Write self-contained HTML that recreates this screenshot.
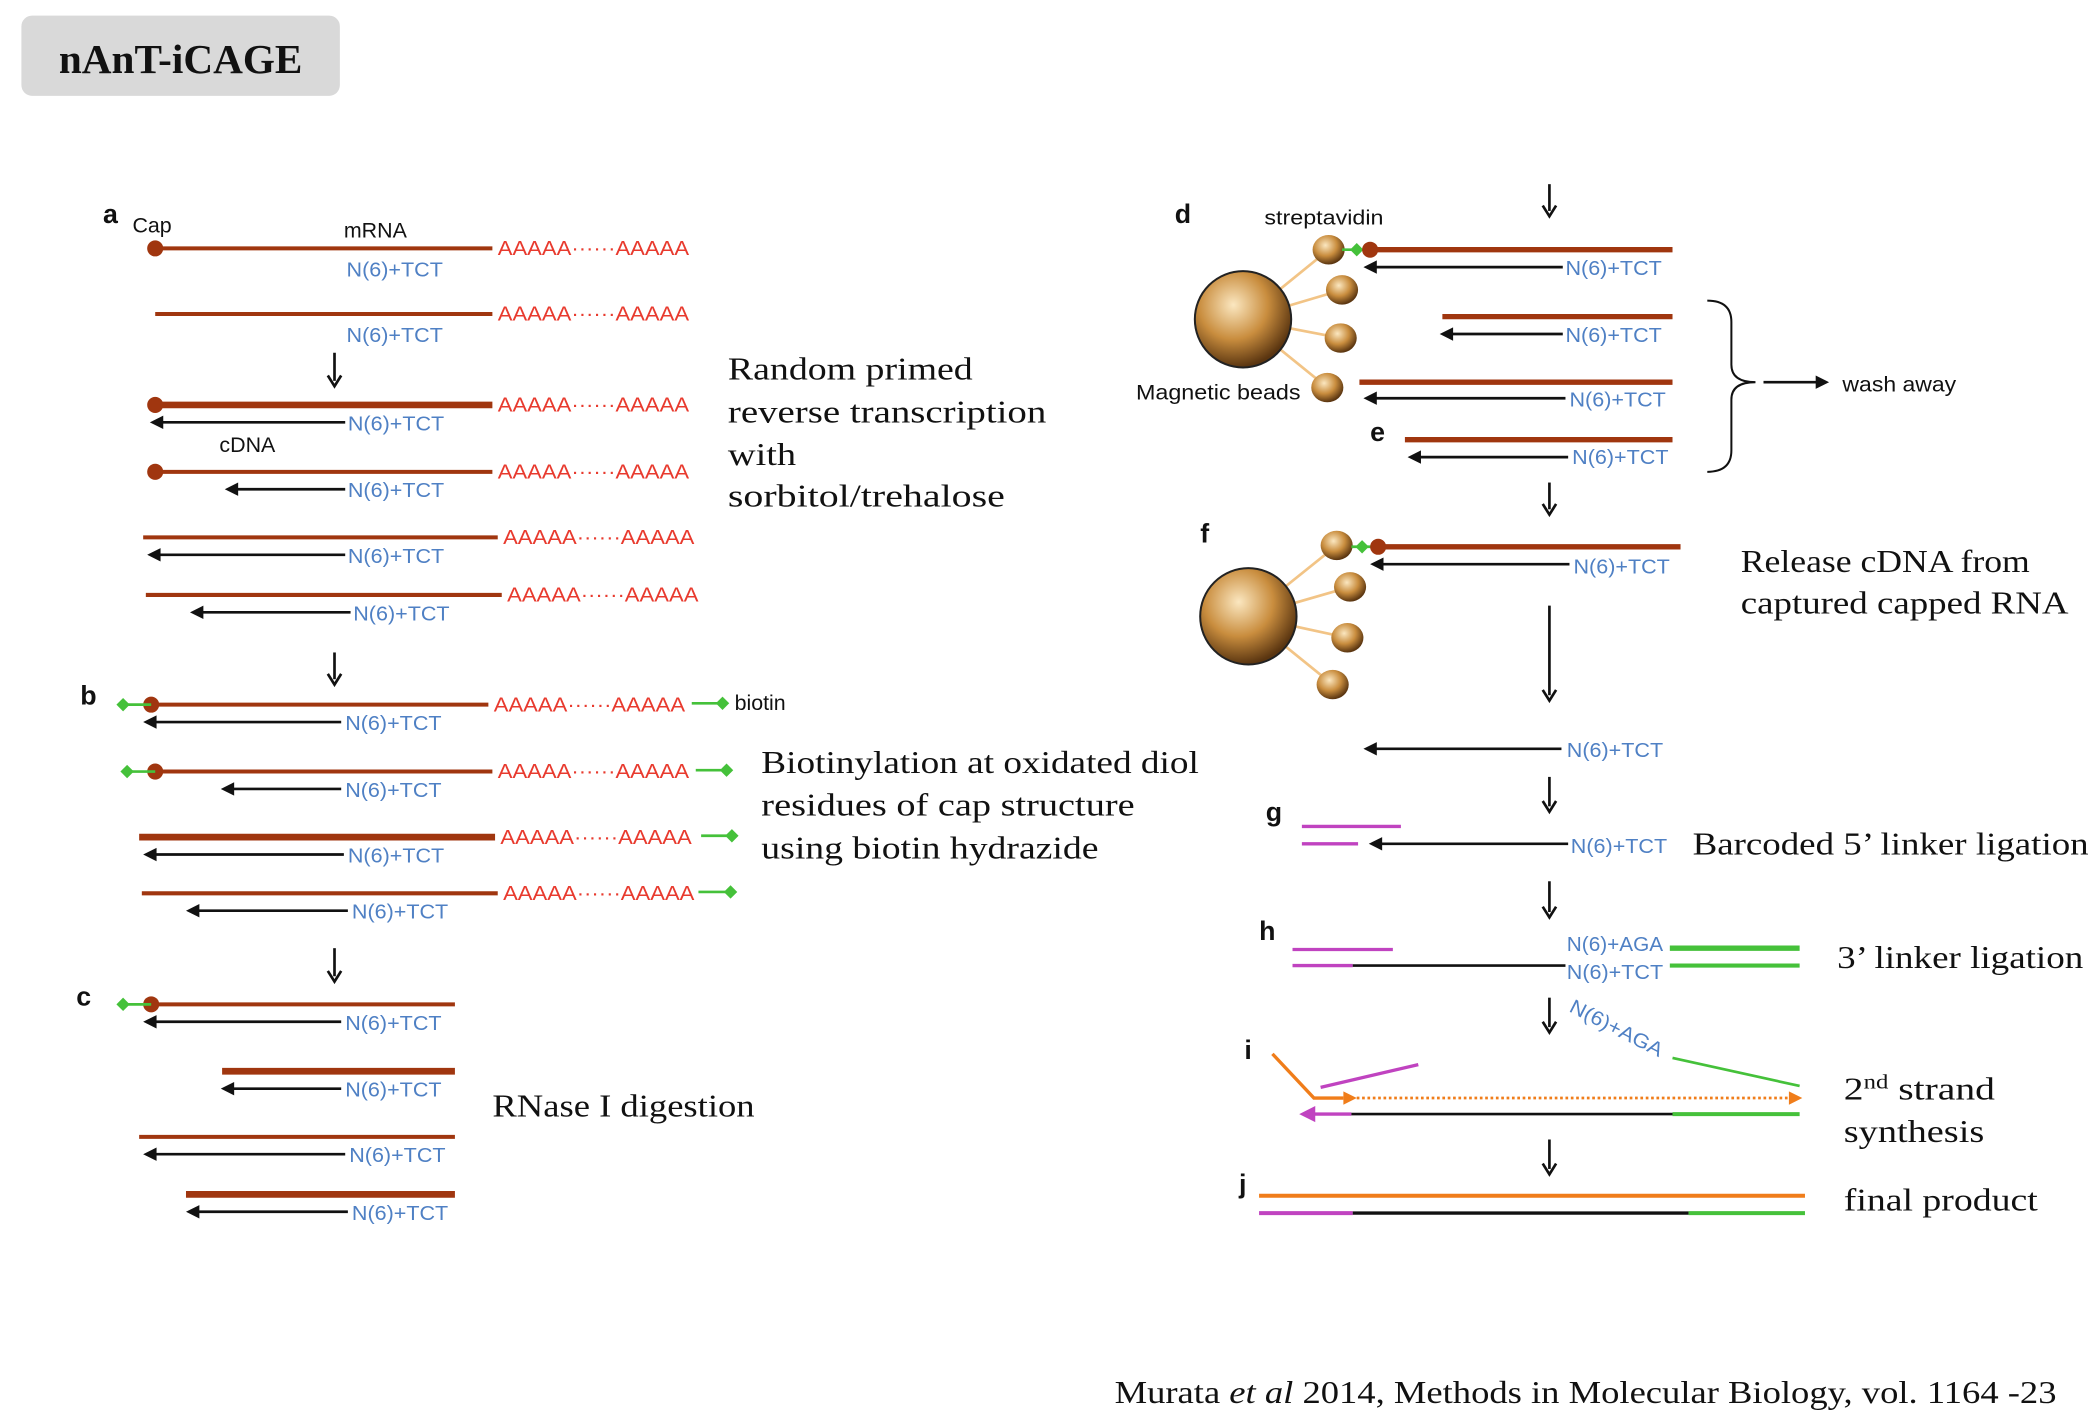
<!DOCTYPE html>
<html><head><meta charset="utf-8"><style>
html,body{margin:0;padding:0;background:#fff;}
svg{display:block;}
.s{font-family:"Liberation Sans",sans-serif;}
.r{font-family:"Liberation Serif",serif;}
</style></head><body>
<svg id="fig" width="2098" height="1420" viewBox="0 0 1568 1060">
<defs>
<radialGradient id="bead" cx="40%" cy="35%" r="65%">
<stop offset="0" stop-color="#fbe7c0"/><stop offset="0.55" stop-color="#c98d3e"/><stop offset="1" stop-color="#5a3510"/>
</radialGradient>
</defs>
</svg>
<script>
const NS='http://www.w3.org/2000/svg';
const svg=document.getElementById('fig');
const BROWN='#a0360f',RED='#e83a2e',BLUE='#4f80c4',GREEN='#45c13a',MAG='#c043c0',ORG='#f07d1a';
function mk(tag,attrs,name,txt){
  const el=document.createElementNS(NS,tag);
  for(const k in attrs) el.setAttribute(k,attrs[k]);
  
  
  if(txt!==undefined) el.textContent=txt;
  svg.appendChild(el);return el;
}
function line(x1,y1,x2,y2,c,w,name,extra){return mk('line',Object.assign({x1,y1,x2,y2,stroke:c,'stroke-width':w},extra||{}),name);}
function text(x,y,t,cls,size,fill,name,extra){return mk('text',Object.assign({x,y,class:cls,'font-size':size,fill},extra||{}),name,t);}
function L(n){return {textLength:n,lengthAdjust:'spacingAndGlyphs'};}
function arrowL(x1,x2,y,c,name){
  line(x1,y,x2+6,y,c||'#111',2,name);
  mk('polygon',{points:`${x2},${y} ${x2+10},${y-5} ${x2+10},${y+5}`,fill:c||'#111'},name+'-head');
}
function arrowR(x1,x2,y,c,name,dash){
  line(x1,y,x2-6,y,c,2,name,dash?{'stroke-dasharray':'2,2'}:{});
  mk('polygon',{points:`${x2},${y} ${x2-10},${y-5} ${x2-10},${y+5}`,fill:c},name+'-head');
}
function down(x,y1,y2){
  line(x,y1,x,y2-4,'#111',2,'step-arrow');
  mk('polyline',{points:`${x-5},${y2-8} ${x},${y2} ${x+5},${y2-8}`,fill:'none',stroke:'#111','stroke-width':2},'step-arrow-head');
}
function dot(x,y){mk('circle',{cx:x,cy:y,r:6,fill:BROWN},'cap-dot');}
function diamond(x,y){mk('polygon',{points:`${x-5},${y} ${x},${y-5} ${x+5},${y} ${x},${y+5}`,fill:GREEN},'biotin-diamond');}
function polyA(x,y){text(x,y,'AAAAA······AAAAA','s',15,RED,'polya-tail',L(143));}
function nt(x,y,t){text(x,y,t||'N(6)+TCT','s',15,BLUE,'primer-label',L(72));}

mk('rect',{x:16,y:11,width:238,height:60,rx:8,fill:'#d9d9d9'},'title-box');
text(44,54,'nAnT-iCAGE','r',31,'#111','title',Object.assign({'font-weight':'bold'},L(182)));

text(77,166,'a','s',20,'#111','panel-a-label',{'font-weight':'bold'});
text(99,173,'Cap','s',16,'#111','cap-label');
text(257,177,'mRNA','s',16,'#111','mrna-label');
const rowsA=[
 {d:1,x1:116,x2:368,y:185,w:3,ax:null},
 {d:0,x1:116,x2:368,y:234,w:3,ax:null},
 {d:1,x1:116,x2:368,y:302,w:5,ax:[258,112]},
 {d:1,x1:116,x2:368,y:352,w:3,ax:[258,168]},
 {d:0,x1:107,x2:372,y:401,w:3,ax:[258,110]},
 {d:0,x1:109,x2:375,y:444,w:3,ax:[262,142]},
];
rowsA.forEach((r,i)=>{
  line(r.x1,r.y,r.x2,r.y,BROWN,r.w,'mrna-strand');
  if(r.d) dot(r.x1,r.y);
  polyA(r.x2+4,r.y+5);
  if(r.ax){arrowL(r.ax[0],r.ax[1],r.y+13,'#111','cdna-strand');nt(r.ax[0]+2,r.y+19);}
  else nt(259,r.y+21);
});
text(164,337,'cDNA','s',16,'#111','cdna-label');
down(250,263,288);
down(250,487,511);

text(60,526,'b','s',20,'#111','panel-b-label',{'font-weight':'bold'});
const rowsB=[
 {d:1,x1:113,x2:365,y:526,w:3,ax:[255,107],g:[517,540]},
 {d:1,x1:116,x2:368,y:576,w:3,ax:[255,165],g:[520,543]},
 {d:0,x1:104,x2:370,y:625,w:5,ax:[257,107],g:[524,547]},
 {d:0,x1:106,x2:372,y:667,w:3,ax:[260,139],g:[522,546]},
];
rowsB.forEach(r=>{
  line(r.x1,r.y,r.x2,r.y,BROWN,r.w,'mrna-strand');
  if(r.d){dot(r.x1,r.y);line(r.x1-21,r.y,r.x1,r.y,GREEN,2,'biotin-link');diamond(r.x1-21,r.y);}
  polyA(r.x2+4,r.y+5);
  line(r.g[0],r.y-1,r.g[1],r.y-1,GREEN,2,'biotin-link');diamond(r.g[1],r.y-1);
  arrowL(r.ax[0],r.ax[1],r.y+13,'#111','cdna-strand');nt(r.ax[0]+3,r.y+19);
});
text(549,530,'biotin','s',16,'#111','biotin-label');
down(250,708,733);

text(57,751,'c','s',20,'#111','panel-c-label',{'font-weight':'bold'});
const rowsC=[
 {d:1,x1:113,y:750,w:3,ax:[255,107]},
 {d:0,x1:166,y:800,w:5,ax:[255,165]},
 {d:0,x1:104,y:849,w:3,ax:[258,107]},
 {d:0,x1:139,y:892,w:5,ax:[260,139]},
];
rowsC.forEach(r=>{
  line(r.x1,r.y,340,r.y,BROWN,r.w,'rna-fragment');
  if(r.d){dot(r.x1,r.y);line(r.x1-21,r.y,r.x1,r.y,GREEN,2,'biotin-link');diamond(r.x1-21,r.y);}
  arrowL(r.ax[0],r.ax[1],r.y+13,'#111','cdna-strand');nt(r.ax[0]+3,r.y+19);
});

[['Random primed',283,183],['reverse transcription',315,238],['with',347,51],['sorbitol/trehalose',378,207]].forEach(t=>text(544,t[1],t[0],'r',24,'#111','rt-caption',L(t[2])));
[['Biotinylation at oxidated diol',577,327],['residues of cap structure',609,279],['using biotin hydrazide',641,252]].forEach(t=>text(569,t[1],t[0],'r',24,'#111','biotin-caption',L(t[2])));
text(368,834,'RNase I digestion','r',24,'#111','rnase-caption',L(196));

down(1158,137,161);
text(878,166,'d','s',20,'#111','panel-d-label',{'font-weight':'bold'});
text(945,167,'streptavidin','s',15,'#111','streptavidin-label',L(89));
function beads(cx,cy,small){
  small.forEach(s=>line(cx,cy,s[0],s[1],'#f2c486',2,'bead-tether'));
  mk('circle',{cx,cy,r:36,fill:'url(#bead)',stroke:'#222','stroke-width':1.5},'magnetic-bead');
  small.forEach(s=>mk('ellipse',{cx:s[0],cy:s[1],rx:12,ry:11,fill:'url(#bead)'},'streptavidin-bead'));
}
beads(929,238,[[993,186],[1003,216],[1002,252],[992,289]]);
text(849,298,'Magnetic beads','s',16,'#111','magnetic-beads-label',L(123));
line(1003,186,1024,186,GREEN,2,'biotin-link');diamond(1014,186);dot(1024,186);
line(1024,186,1250,186,BROWN,4,'mrna-strand');arrowL(1168,1019,199,'#111','cdna-strand');nt(1170,205);
line(1078,236,1250,236,BROWN,4,'mrna-strand');arrowL(1168,1076,249,'#111','cdna-strand');nt(1170,255);
line(1016,285,1250,285,BROWN,4,'mrna-strand');arrowL(1170,1019,297,'#111','cdna-strand');nt(1173,303);
text(1024,329,'e','s',20,'#111','panel-e-label',{'font-weight':'bold'});
line(1050,328,1250,328,BROWN,4,'mrna-strand');arrowL(1172,1052,341,'#111','cdna-strand');nt(1175,346);
mk('path',{d:'M1276,224 Q1294,224 1294,240 L1294,272 Q1294,285 1312,285 Q1294,285 1294,298 L1294,336 Q1294,352 1276,352',fill:'none',stroke:'#111','stroke-width':1.5},'wash-brace');
arrowR(1318,1367,285,'#111','wash-arrow');
text(1377,292,'wash away','s',16,'#111','wash-away-label',L(85));
down(1158,360,384);

text(897,405,'f','s',20,'#111','panel-f-label',{'font-weight':'bold'});
beads(933,460,[[999,407],[1009,438],[1007,476],[996,511]]);
line(1010,408,1030,408,GREEN,2,'biotin-link');diamond(1018,408);dot(1030,408);
line(1030,408,1256,408,BROWN,4,'mrna-strand');arrowL(1173,1024,421,'#111','cdna-strand');nt(1176,428);
text(1301,427,'Release cDNA from','r',24,'#111','release-caption',L(216));
text(1301,458,'captured capped RNA','r',24,'#111','release-caption',L(245));
down(1158,452,523);
arrowL(1167,1019,559,'#111','cdna-strand');nt(1171,565);
down(1158,580,606);

text(946,613,'g','s',20,'#111','panel-g-label',{'font-weight':'bold'});
line(973,617,1047,617,MAG,2.5,'5-linker');line(973,630,1015,630,MAG,2.5,'5-linker');
arrowL(1172,1023,630,'#111','cdna-strand');nt(1174,637);
text(1265,638,'Barcoded 5’ linker ligation','r',24,'#111','barcode-caption',L(296));
down(1158,658,685);

text(941,702,'h','s',20,'#111','panel-h-label',{'font-weight':'bold'});
line(966,709,1041,709,MAG,2.5,'5-linker');line(966,721,1011,721,MAG,2.5,'5-linker');
line(1011,721,1170,721,'#111',2,'cdna-strand');
nt(1171,710,'N(6)+AGA');nt(1171,731);
line(1248,708,1345,708,GREEN,4,'3-linker');line(1248,721,1345,721,GREEN,3,'3-linker');
text(1373,723,'3’ linker ligation','r',24,'#111','3-linker-caption',L(184));
down(1158,745,771);
text(1172,755,'N(6)+AGA','s',15,BLUE,'primer-label-rotated',Object.assign({transform:'rotate(27 1172 755)'},L(76)));
line(1250,790,1345,811,GREEN,2,'3-linker-primer');

text(930,791,'i','s',20,'#111','panel-i-label',{'font-weight':'bold'});
mk('polyline',{points:'951,787 982,820 1004,820',fill:'none',stroke:ORG,'stroke-width':2.5},'orange-primer');
mk('polygon',{points:'1014,820 1004,815 1004,825',fill:ORG},'orange-primer-head');
arrowR(1014,1347,820,ORG,'second-strand-dotted',true);
line(987,812,1060,795,MAG,2.5,'5-linker');
line(982,832,1010,832,MAG,2.5,'5-linker');
mk('polygon',{points:'971,832 983,826 983,838',fill:MAG},'5-linker-head');
line(1010,832,1250,832,'#111',2,'cdna-strand');line(1250,832,1345,832,GREEN,3,'3-linker');
const t2=text(1378,821,'2','r',24,'#111','second-strand-caption',L(113));
const sup=document.createElementNS(NS,'tspan');sup.setAttribute('dy','-8');sup.setAttribute('font-size','15');sup.textContent='nd';t2.appendChild(sup);
const rest=document.createElementNS(NS,'tspan');rest.setAttribute('dy','8');rest.textContent=' strand';t2.appendChild(rest);
text(1378,853,'synthesis','r',24,'#111','second-strand-caption',L(105));
down(1158,851,877);

text(926,891,'j','s',20,'#111','panel-j-label',{'font-weight':'bold'});
line(941,893,1349,893,ORG,3,'final-top-strand');
line(941,906,1011,906,MAG,3,'final-5-linker');line(1011,906,1262,906,'#111',2.5,'final-cdna');line(1262,906,1349,906,GREEN,3,'final-3-linker');
text(1378,904,'final product','r',24,'#111','final-caption',L(145));

const c=text(833,1048,'Murata ','r',24,'#111','citation',L(704));
const it=document.createElementNS(NS,'tspan');it.setAttribute('font-style','italic');it.textContent='et al';c.appendChild(it);
const r2=document.createElementNS(NS,'tspan');r2.textContent=' 2014, Methods in Molecular Biology, vol. 1164 -23';c.appendChild(r2);
</script>
</body></html>
